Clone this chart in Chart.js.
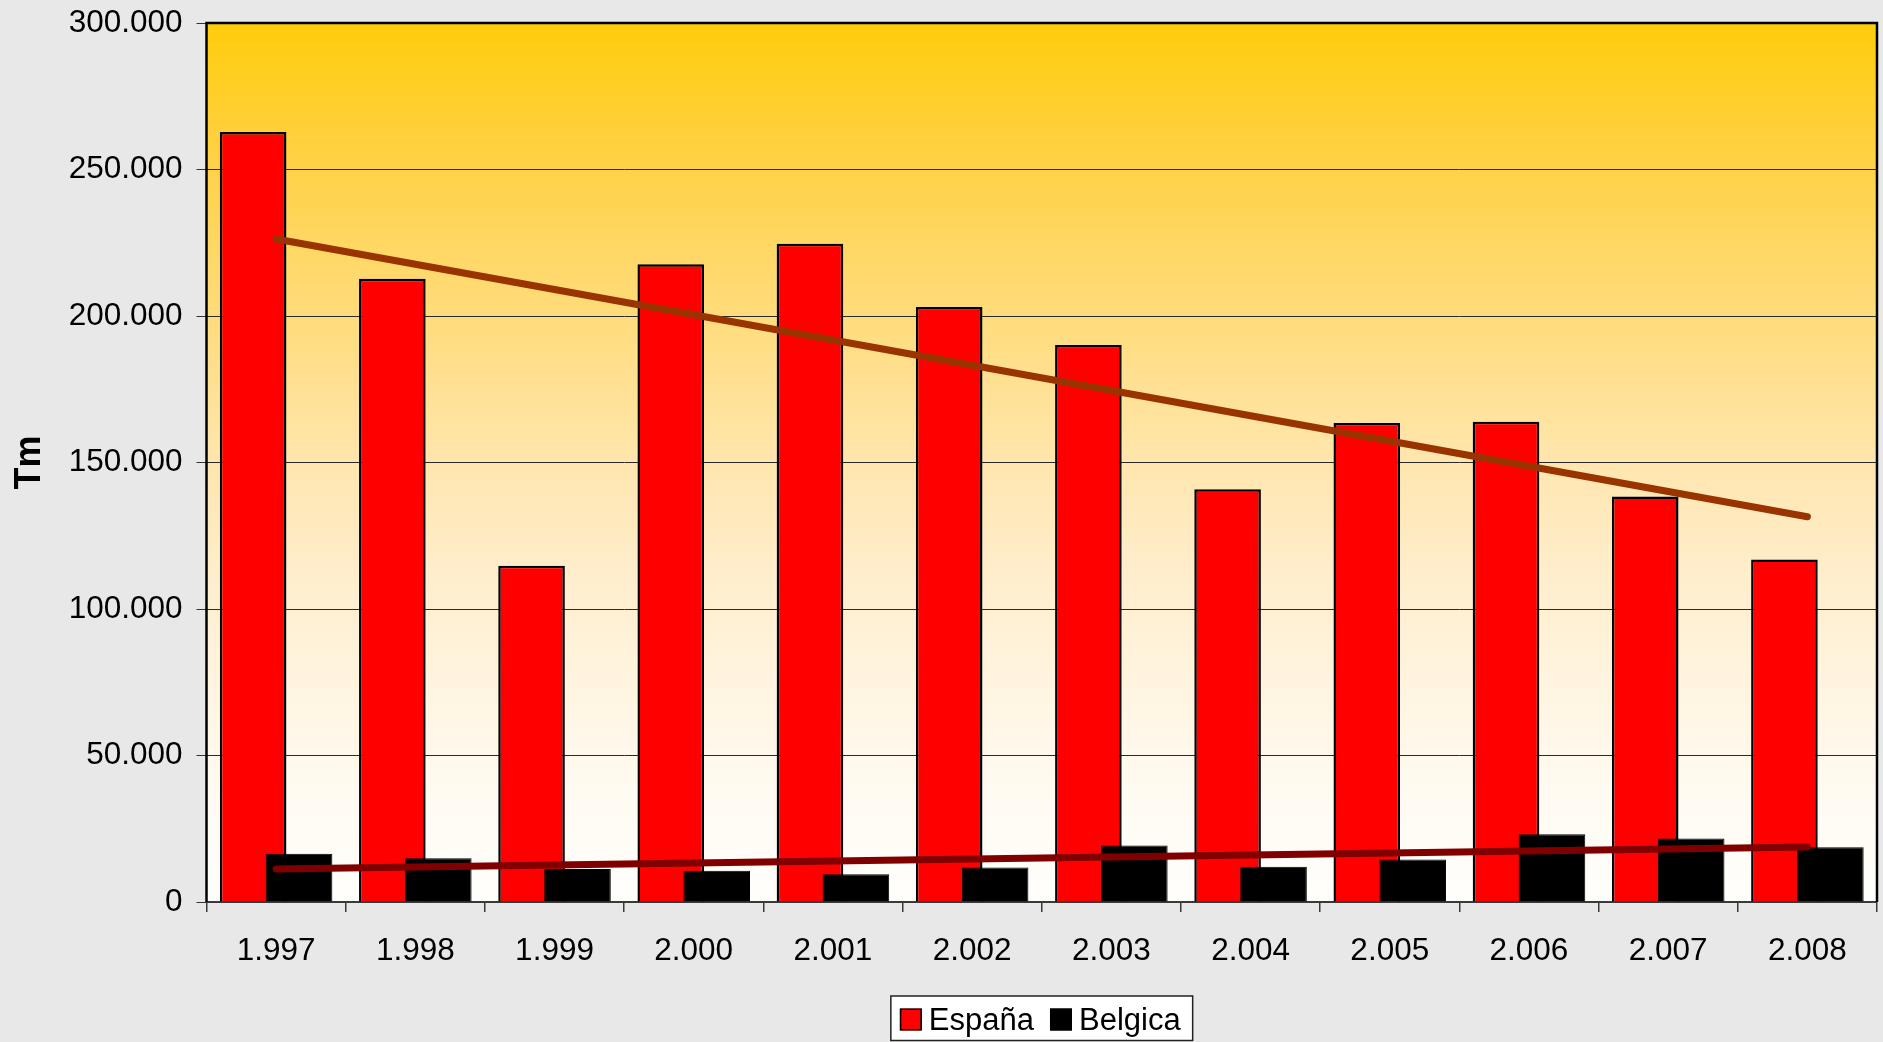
<!DOCTYPE html>
<html>
<head>
<meta charset="utf-8">
<script src="https://cdn.jsdelivr.net/npm/chart.js@4.4.1/dist/chart.umd.min.js"></script>
<style>
html,body{margin:0;padding:0;background:#e8e8e8;overflow:hidden}
canvas{display:block}
</style>
</head>
<body>
<canvas id="c" width="1883" height="1042"></canvas>
<script>
const categories = ['1.997','1.998','1.999','2.000','2.001','2.002','2.003','2.004','2.005','2.006','2.007','2.008'];
const espana  = [262800, 212700, 114800, 217700, 224700, 203100, 190100, 140900, 163500, 163900, 138400, 116900];
const belgica = [16500, 14900, 11300, 10700, 9500, 11800, 19300, 12000, 14500, 23100, 21700, 18700];
const espanaTrend  = [226300, null, null, null, null, null, null, null, null, null, null, 131500];
const belgicaTrend = [11300, null, null, null, null, null, null, null, null, null, null, 18800];
const yTickLabels = ['0','50.000','100.000','150.000','200.000','250.000','300.000'];
const seriesNames = ['España','Belgica'];
const yTitle = 'Tm';

const FONT = '"Liberation Sans", Arial, Helvetica, sans-serif';
Chart.defaults.font.family = FONT;
Chart.defaults.color = '#000';

const bgPlugin = {
  id: 'bg',
  beforeDraw(chart) {
    const {ctx, chartArea: a} = chart;
    ctx.save();
    ctx.fillStyle = '#e8e8e8';
    ctx.fillRect(0, 0, chart.width, chart.height);
    const g = ctx.createLinearGradient(0, a.top, 0, a.bottom);
    g.addColorStop(0, '#ffcc0c');
    g.addColorStop(0.17, '#ffd24a');
    g.addColorStop(0.5, '#ffe6ae');
    g.addColorStop(0.63, '#ffeecd');
    g.addColorStop(0.88, '#fffbf3');
    g.addColorStop(1, '#fffefb');
    ctx.fillStyle = g;
    ctx.fillRect(a.left, a.top, a.right - a.left, a.bottom - a.top);
    ctx.restore();
  }
};

const orderPlugin = {
  id: 'barOrder',
  beforeDatasetDraw(chart, args) {
    if (args.index === 0) return false;
    if (args.index === 1) {
      chart.getDatasetMeta(0).controller.draw();
    }
  }
};

const framePlugin = {
  id: 'frame',
  afterDraw(chart) {
    const {ctx, chartArea: a} = chart;
    ctx.save();
    ctx.strokeStyle = '#000';
    ctx.lineWidth = 2.5;
    ctx.beginPath();
    ctx.moveTo(a.left, a.bottom);
    ctx.lineTo(a.left, a.top);
    ctx.lineTo(a.right, a.top);
    ctx.lineTo(a.right, a.bottom);
    ctx.stroke();
    ctx.restore();
  }
};

const legendPlugin = {
  id: 'boxLegend',
  afterDraw(chart) {
    const {ctx, chartArea: a} = chart;
    ctx.save();
    ctx.font = '31px ' + FONT;
    const items = [0, 1].map(i => ({
      label: chart.data.datasets[i].label,
      fill: chart.data.datasets[i].backgroundColor
    }));
    const sq = 22, gapT = 7, gapI = 16, padL = 9, padR = 12;
    const w = items.map(it => ctx.measureText(it.label).width);
    const total = padL + sq + gapT + w[0] + gapI + sq + gapT + w[1] + padR;
    const cx = (a.left + a.right) / 2;
    const x0 = cx - total / 2;
    const top = chart.height - 46, bottom = chart.height - 1.5;
    ctx.fillStyle = '#fff';
    ctx.fillRect(x0, top, total, bottom - top);
    ctx.strokeStyle = '#222';
    ctx.lineWidth = 1.5;
    ctx.strokeRect(x0, top, total, bottom - top);
    let x = x0 + padL;
    const sqTop = top + 12.5;
    items.forEach((it, k) => {
      ctx.fillStyle = it.fill;
      ctx.fillRect(x, sqTop, sq, sq);
      ctx.strokeStyle = '#000';
      ctx.lineWidth = 1.5;
      ctx.strokeRect(x + 0.75, sqTop + 0.75, sq - 1.5, sq - 1.5);
      x += sq + gapT;
      ctx.fillStyle = '#000';
      ctx.textBaseline = 'alphabetic';
      ctx.textAlign = 'left';
      ctx.fillText(it.label, x, top + 34);
      x += w[k] + gapI;
    });
    ctx.restore();
  }
};

new Chart(document.getElementById('c'), {
  type: 'bar',
  data: {
    labels: categories,
    datasets: [
      { label: seriesNames[0], data: espana, backgroundColor: '#ff0000', borderColor: '#000', borderWidth: 2.5, order: 1,
        categoryPercentage: 0.66, barPercentage: 1.45 },
      { label: seriesNames[1], data: belgica, backgroundColor: '#000000', borderColor: '#000', borderWidth: 1, order: 1,
        categoryPercentage: 0.66, barPercentage: 1.45 },
      { type: 'line', label: 'trendE', data: espanaTrend, borderColor: '#993300', borderWidth: 7, pointRadius: 0,
        spanGaps: true, borderCapStyle: 'round', fill: false, order: 0 },
      { type: 'line', label: 'trendB', data: belgicaTrend, borderColor: '#800000', borderWidth: 7, pointRadius: 0,
        spanGaps: true, borderCapStyle: 'round', fill: false, order: 0 }
    ]
  },
  options: {
    responsive: false,
    animation: false,
    devicePixelRatio: 1,
    layout: { padding: { top: 23, right: 6, bottom: 70, left: 0 } },
    plugins: { legend: { display: false }, tooltip: { enabled: false } },
    scales: {
      x: {
        offset: true,
        grid: { display: true, drawOnChartArea: false, drawTicks: true, tickLength: 10, color: '#3a3a3a', lineWidth: 1.5, offset: true },
        border: { display: true, color: '#3a3a3a', width: 2 },
        ticks: { color: '#000', font: { size: 31.5 }, padding: 20, maxRotation: 0, autoSkip: false },
        afterFit(s) { s.height = 70; s.paddingLeft = 0; s.paddingRight = 0; }
      },
      y: {
        min: 0, max: 300000,
        ticks: { stepSize: 50000, color: '#000', font: { size: 31.5 }, padding: 14,
                 callback: (v, i) => yTickLabels[i] },
        grid: { color: '#2a2a2a', lineWidth: 1, tickLength: 10, drawTicks: true, tickColor: '#333' },
        border: { display: false },
        title: { display: true, text: yTitle, color: '#000', font: { size: 36, weight: 'bold' }, padding: { top: 8, bottom: 0 } },
        afterFit(s) { s.width = 206.5; s.paddingTop = 0; s.paddingBottom = 0; }
      }
    }
  },
  plugins: [bgPlugin, orderPlugin, framePlugin, legendPlugin]
});
</script>
</body>
</html>
